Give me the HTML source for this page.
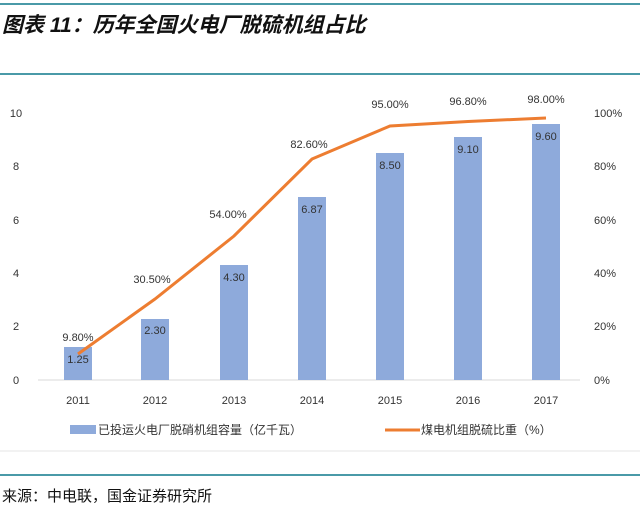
<!DOCTYPE html>
<html><head><meta charset="utf-8"><style>
body{margin:0;background:#fff;width:640px;height:511px;overflow:hidden}
svg text{font-family:"Liberation Sans","Noto Sans CJK SC",sans-serif}
</style></head><body>
<svg width="640" height="511" xmlns="http://www.w3.org/2000/svg">
<rect width="640" height="511" fill="#fff"/>
<line x1="0" y1="4" x2="640" y2="4" stroke="#4a9aa8" stroke-width="2"/>
<text x="2" y="32" font-size="21" font-weight="bold" font-style="italic" fill="#111">图表 11：历年全国火电厂脱硫机组占比</text>
<line x1="0" y1="74" x2="640" y2="74" stroke="#4a9aa8" stroke-width="2"/>
<line x1="38" y1="380" x2="580" y2="380" stroke="#d9d9d9"/>
<g fill="#8eaadb">
<rect x="64" y="347" width="28" height="33"/>
<rect x="141" y="319" width="28" height="61"/>
<rect x="220" y="265" width="28" height="115"/>
<rect x="298" y="197" width="28" height="183"/>
<rect x="376" y="153" width="28" height="227"/>
<rect x="454" y="137" width="28" height="243"/>
<rect x="532" y="124" width="28" height="256"/>
</g>
<polyline points="78,354 155,299 234,236 312,159 390,126 468,121.5 546,118" fill="none" stroke="#ed7d31" stroke-width="3"/>
<g font-size="11" fill="#333" text-anchor="middle">
<text x="78" y="363">1.25</text><text x="155" y="334">2.30</text><text x="234" y="281">4.30</text>
<text x="312" y="213">6.87</text><text x="390" y="169">8.50</text><text x="468" y="153">9.10</text><text x="546" y="140">9.60</text>
<text x="78" y="341">9.80%</text><text x="152" y="283">30.50%</text><text x="228" y="218">54.00%</text>
<text x="309" y="148">82.60%</text><text x="390" y="108">95.00%</text><text x="468" y="105">96.80%</text><text x="546" y="103">98.00%</text>
<text x="78" y="404">2011</text><text x="155" y="404">2012</text><text x="234" y="404">2013</text><text x="312" y="404">2014</text>
<text x="390" y="404">2015</text><text x="468" y="404">2016</text><text x="546" y="404">2017</text>
</g>
<g font-size="11" fill="#333" text-anchor="middle">
<text x="16" y="384">0</text><text x="16" y="330">2</text><text x="16" y="277">4</text><text x="16" y="224">6</text><text x="16" y="170">8</text><text x="16" y="117">10</text>
</g>
<g font-size="11" fill="#333" text-anchor="start">
<text x="594" y="384">0%</text><text x="594" y="330">20%</text><text x="594" y="277">40%</text><text x="594" y="224">60%</text><text x="594" y="170">80%</text><text x="594" y="117">100%</text>
</g>
<rect x="70" y="425" width="26" height="9" fill="#8eaadb"/>
<text x="98" y="434" font-size="12" fill="#333">已投运火电厂脱硝机组容量（亿千瓦）</text>
<line x1="385" y1="430" x2="420" y2="430" stroke="#ed7d31" stroke-width="3"/>
<text x="421" y="434" font-size="12" fill="#333">煤电机组脱硫比重（%）</text>
<line x1="0" y1="451" x2="640" y2="451" stroke="#e6e6e6"/>
<line x1="0" y1="475" x2="640" y2="475" stroke="#4a9aa8" stroke-width="2"/>
<text x="2" y="501" font-size="15" fill="#111" font-family="'Noto Serif CJK SC',serif">来源：中电联，国金证券研究所</text>
</svg>
</body></html>
